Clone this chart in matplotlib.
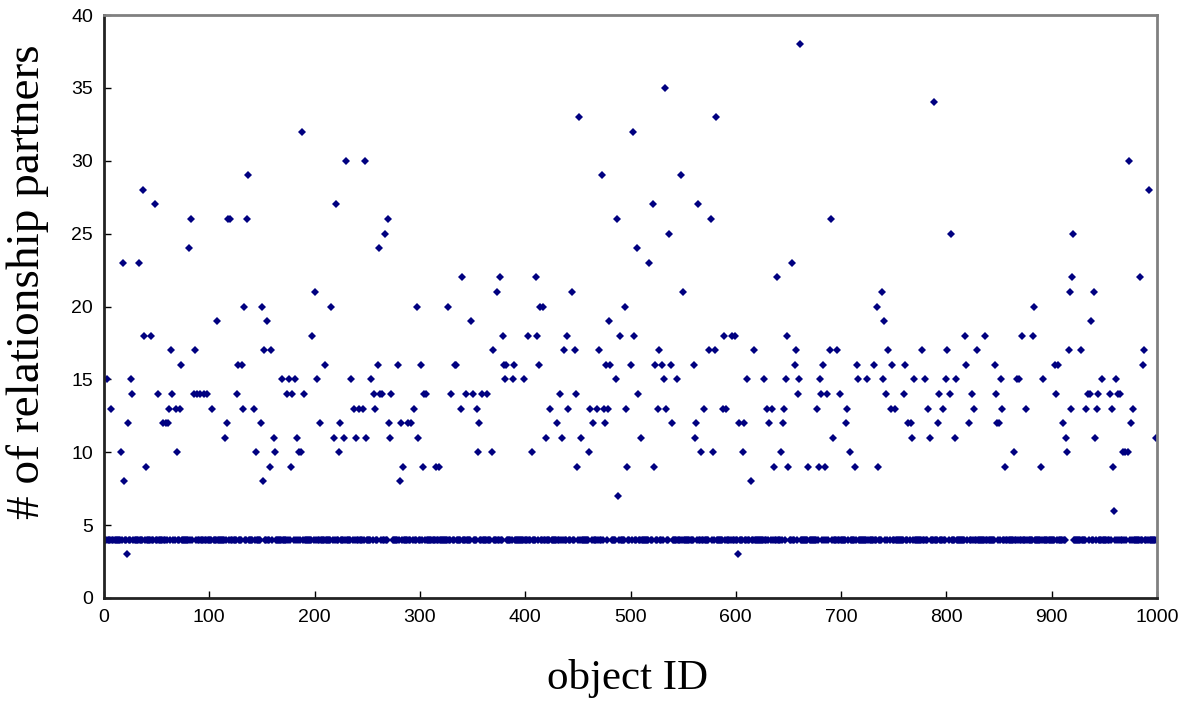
import numpy as np
import matplotlib
matplotlib.use("Agg")
import matplotlib.pyplot as plt

# most objects sit on the baseline value; these are the ones that don't
base_value = 4
n_objects = 1001

odd_ids = [
    3, 7, 16, 18, 19, 22, 23, 26, 27, 33, 37, 38, 40, 45, 48, 51, 56, 59, 61, 62,
    64, 65, 68, 69, 72, 73, 81, 83, 85, 86, 88, 91, 95, 98, 103, 107, 115, 117, 118, 120,
    126, 127, 131, 132, 133, 136, 137, 142, 144, 149, 150, 151, 152, 155, 158, 159, 161, 162, 169, 174,
    176, 178, 179, 181, 183, 185, 187, 188, 190, 198, 200, 202, 205, 210, 216, 218, 220, 223, 224, 228,
    230, 235, 237, 239, 242, 246, 248, 249, 254, 256, 257, 260, 261, 262, 264, 267, 270, 271, 272, 273,
    279, 281, 282, 284, 289, 292, 294, 297, 298, 301, 303, 304, 306, 315, 318, 327, 330, 333, 334, 339,
    340, 344, 349, 350, 354, 355, 356, 359, 364, 368, 369, 373, 376, 379, 380, 381, 382, 388, 389, 399,
    403, 406, 410, 411, 413, 414, 417, 420, 424, 430, 433, 435, 437, 440, 441, 444, 447, 448, 449, 451,
    453, 461, 462, 464, 468, 470, 473, 475, 476, 477, 479, 480, 481, 486, 487, 488, 490, 495, 496, 497,
    500, 502, 503, 506, 507, 510, 518, 521, 522, 523, 526, 527, 530, 532, 533, 534, 537, 538, 539, 544,
    548, 550, 560, 561, 562, 564, 567, 570, 575, 576, 578, 580, 581, 588, 589, 591, 596, 599, 602, 603,
    607, 608, 611, 614, 617, 627, 630, 632, 634, 636, 639, 643, 645, 646, 648, 649, 650, 653, 656, 657,
    659, 660, 661, 669, 677, 679, 680, 681, 683, 685, 687, 689, 690, 692, 696, 699, 705, 706, 708, 713,
    715, 716, 725, 731, 734, 735, 739, 740, 741, 743, 745, 747, 748, 751, 760, 761, 764, 766, 767, 769,
    777, 780, 783, 784, 788, 792, 793, 797, 800, 801, 803, 804, 808, 809, 818, 819, 821, 824, 826, 829,
    837, 846, 847, 848, 850, 852, 853, 856, 864, 867, 869, 872, 876, 882, 883, 890, 892, 903, 904, 906,
    911, 914, 915, 916, 917, 918, 919, 920, 928, 933, 934, 936, 937, 940, 941, 943, 944, 948, 955, 957,
    958, 959, 961, 963, 965, 968, 970, 972, 973, 975, 977, 984, 987, 988, 992, 999,
]

odd_values = [
    15, 13, 10, 23, 8, 3, 12, 15, 14, 23, 28, 18, 9, 18, 27, 14, 12, 12, 12, 13,
    17, 14, 13, 10, 13, 16, 24, 26, 14, 17, 14, 14, 14, 14, 13, 19, 11, 12, 26, 26,
    14, 16, 16, 13, 20, 26, 29, 13, 10, 12, 20, 8, 17, 19, 9, 17, 11, 10, 15, 14,
    15, 9, 14, 15, 11, 10, 10, 32, 14, 18, 21, 15, 12, 16, 20, 11, 27, 10, 12, 11,
    30, 15, 13, 11, 13, 13, 30, 11, 15, 14, 13, 16, 24, 14, 14, 25, 26, 12, 11, 14,
    16, 8, 12, 9, 12, 12, 13, 20, 11, 16, 9, 14, 14, 9, 9, 20, 14, 16, 16, 13,
    22, 14, 19, 14, 13, 10, 12, 14, 14, 10, 17, 21, 22, 18, 16, 15, 16, 15, 16, 15,
    18, 10, 22, 18, 16, 20, 20, 11, 13, 12, 14, 11, 17, 18, 13, 21, 17, 14, 9, 33,
    11, 10, 13, 12, 13, 17, 29, 13, 12, 16, 13, 19, 16, 15, 26, 7, 18, 20, 13, 9,
    16, 32, 18, 24, 14, 11, 23, 27, 9, 16, 13, 17, 16, 15, 35, 13, 25, 16, 12, 15,
    29, 21, 16, 11, 12, 27, 10, 13, 17, 26, 10, 17, 33, 13, 18, 13, 18, 18, 3, 12,
    10, 12, 15, 8, 17, 15, 13, 12, 13, 9, 22, 10, 12, 13, 15, 18, 9, 23, 16, 17,
    14, 15, 38, 9, 13, 9, 15, 14, 16, 9, 14, 17, 26, 11, 17, 14, 12, 13, 10, 9,
    16, 15, 15, 16, 20, 9, 21, 15, 19, 14, 17, 13, 16, 13, 14, 16, 12, 12, 11, 15,
    17, 15, 13, 11, 34, 12, 14, 13, 15, 17, 14, 25, 11, 15, 18, 16, 12, 14, 13, 17,
    18, 16, 14, 12, 12, 15, 13, 9, 10, 15, 15, 18, 13, 18, 20, 9, 15, 16, 14, 16,
    12, 11, 10, 17, 21, 13, 22, 25, 17, 13, 14, 14, 19, 21, 11, 13, 14, 15, 14, 13,
    9, 6, 15, 14, 14, 10, 10, 10, 30, 12, 13, 22, 16, 17, 28, 11,
]

object_id = np.arange(n_objects)
partners = np.full(n_objects, base_value)
partners[odd_ids] = odd_values

fig = plt.figure(figsize=(11.82, 7.04), dpi=100)
ax = fig.add_axes([104 / 1182, 1 - 598 / 704, (1157 - 104) / 1182, (598 - 15) / 704])

ax.plot(object_id, partners, linestyle="none", marker="D", markersize=4.3,
        color="#000080", markeredgewidth=0)

ax.set_xlim(0, 1000)
ax.set_ylim(0, 40)
ax.set_xticks(range(0, 1001, 100))
ax.set_yticks(range(0, 41, 5))

tick_font = ["Liberation Sans Narrow", "Liberation Sans", "DejaVu Sans"]
for lab in ax.get_xticklabels() + ax.get_yticklabels():
    lab.set_family(tick_font)
    lab.set_fontsize(14)
ax.tick_params(direction="in", length=5, width=1, pad=8)

for side in ["top", "right"]:
    ax.spines[side].set_color("#808080")
    ax.spines[side].set_linewidth(2)
for side in ["left", "bottom"]:
    ax.spines[side].set_color("#222222")
    ax.spines[side].set_linewidth(2)

serif = ["Liberation Serif", "DejaVu Serif"]
fig.text(628 / 1182, 1 - 678 / 704, "object ID", ha="center", va="center",
         family=serif, fontsize=31)
fig.text(28 / 1182, 1 - 282 / 704, "# of relationship partners", ha="center",
         va="center", rotation=90, family=serif, fontsize=34)

fig.savefig("out.png", dpi=100)
